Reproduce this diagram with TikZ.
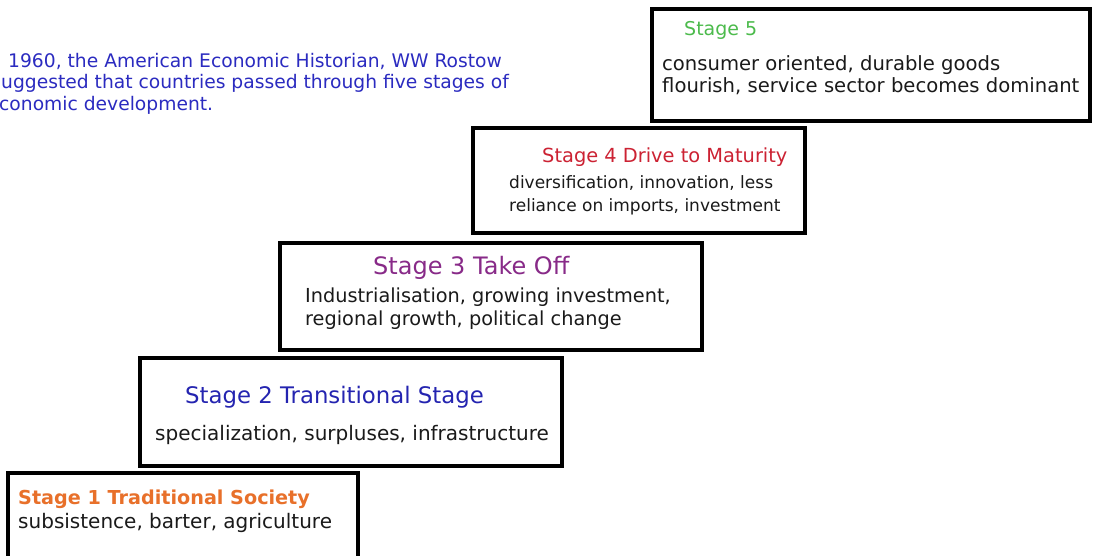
\documentclass[tikz,border=0pt]{standalone}
\usepackage{fontspec}
\setmainfont{DejaVu Sans}
\definecolor{introblue}{HTML}{2B2BC0}
\definecolor{sfivegreen}{HTML}{4CBB4C}
\definecolor{sfourred}{HTML}{CC2233}
\definecolor{sthreepurple}{HTML}{882A88}
\definecolor{stwoblue}{HTML}{2424B0}
\definecolor{soneorange}{HTML}{E8702A}
\definecolor{bodygray}{HTML}{1A1A1A}
\tikzset{
  stagebox/.style={draw=black, line width=4.5pt, fill=white, rectangle, inner sep=0pt},
  txt/.style={anchor=west, inner sep=0pt, align=left, text=bodygray},
}
\begin{document}
\begin{tikzpicture}[x=1pt,y=-1pt]
\useasboundingbox (0,0) rectangle (1094,556);
\fill[white] (0,0) rectangle (1094,556);
% intro text
\node[txt, text=introblue, font=\fontsize{18.7}{22}\selectfont] (intro1) at (8,61) {1960, the American Economic Historian, WW Rostow};
\node[txt, text=introblue, font=\fontsize{18.7}{22}\selectfont] (intro2) at (1,83) {uggested that countries passed through five stages of};
\node[txt, text=introblue, font=\fontsize{18.7}{22}\selectfont] (intro3) at (-1,105) {conomic development.};
% boxes
\node[stagebox, minimum width=438pt, minimum height=112pt] (b5) at (871,65) {};
\node[stagebox, minimum width=332pt, minimum height=105pt] (b4) at (639,180.5) {};
\node[stagebox, minimum width=422pt, minimum height=107pt] (b3) at (491,296.5) {};
\node[stagebox, minimum width=422pt, minimum height=108pt] (b2) at (351,412) {};
\node[stagebox, minimum width=350pt, minimum height=92pt] (b1) at (183,519) {};
% stage 5
\node[txt, text=sfivegreen, font=\fontsize{19}{22}\selectfont] (t5) at (684,30) {Stage 5};
\node[txt, font=\fontsize{19.6}{22}\selectfont] (d5) at (662,75) {consumer oriented, durable goods\\flourish, service sector becomes dominant};
% stage 4
\node[txt, text=sfourred, font=\fontsize{19.4}{22}\selectfont] (t4) at (542,157) {Stage 4 Drive to Maturity};
\node[txt, font=\fontsize{17}{23}\selectfont] (d4) at (509,195) {diversification, innovation, less\\reliance on imports, investment};
% stage 3
\node[txt, text=sthreepurple, font=\fontsize{24}{22}\selectfont] (t3) at (373,268) {Stage 3 Take Off};
\node[txt, font=\fontsize{19.3}{23}\selectfont] (d3) at (305,309) {Industrialisation, growing investment,\\regional growth, political change};
% stage 2
\node[txt, text=stwoblue, font=\fontsize{22.8}{22}\selectfont] (t2) at (185,397) {Stage 2 Transitional Stage};
\node[txt, font=\fontsize{20}{22}\selectfont] (d2) at (155,435) {specialization, surpluses, infrastructure};
% stage 1
\node[txt, text=soneorange, font=\bfseries\fontsize{19.2}{22}\selectfont] (t1) at (18,499) {Stage 1 Traditional Society};
\node[txt, font=\fontsize{20}{22}\selectfont] (d1) at (18,523) {subsistence, barter, agriculture};
\end{tikzpicture}
\end{document}
